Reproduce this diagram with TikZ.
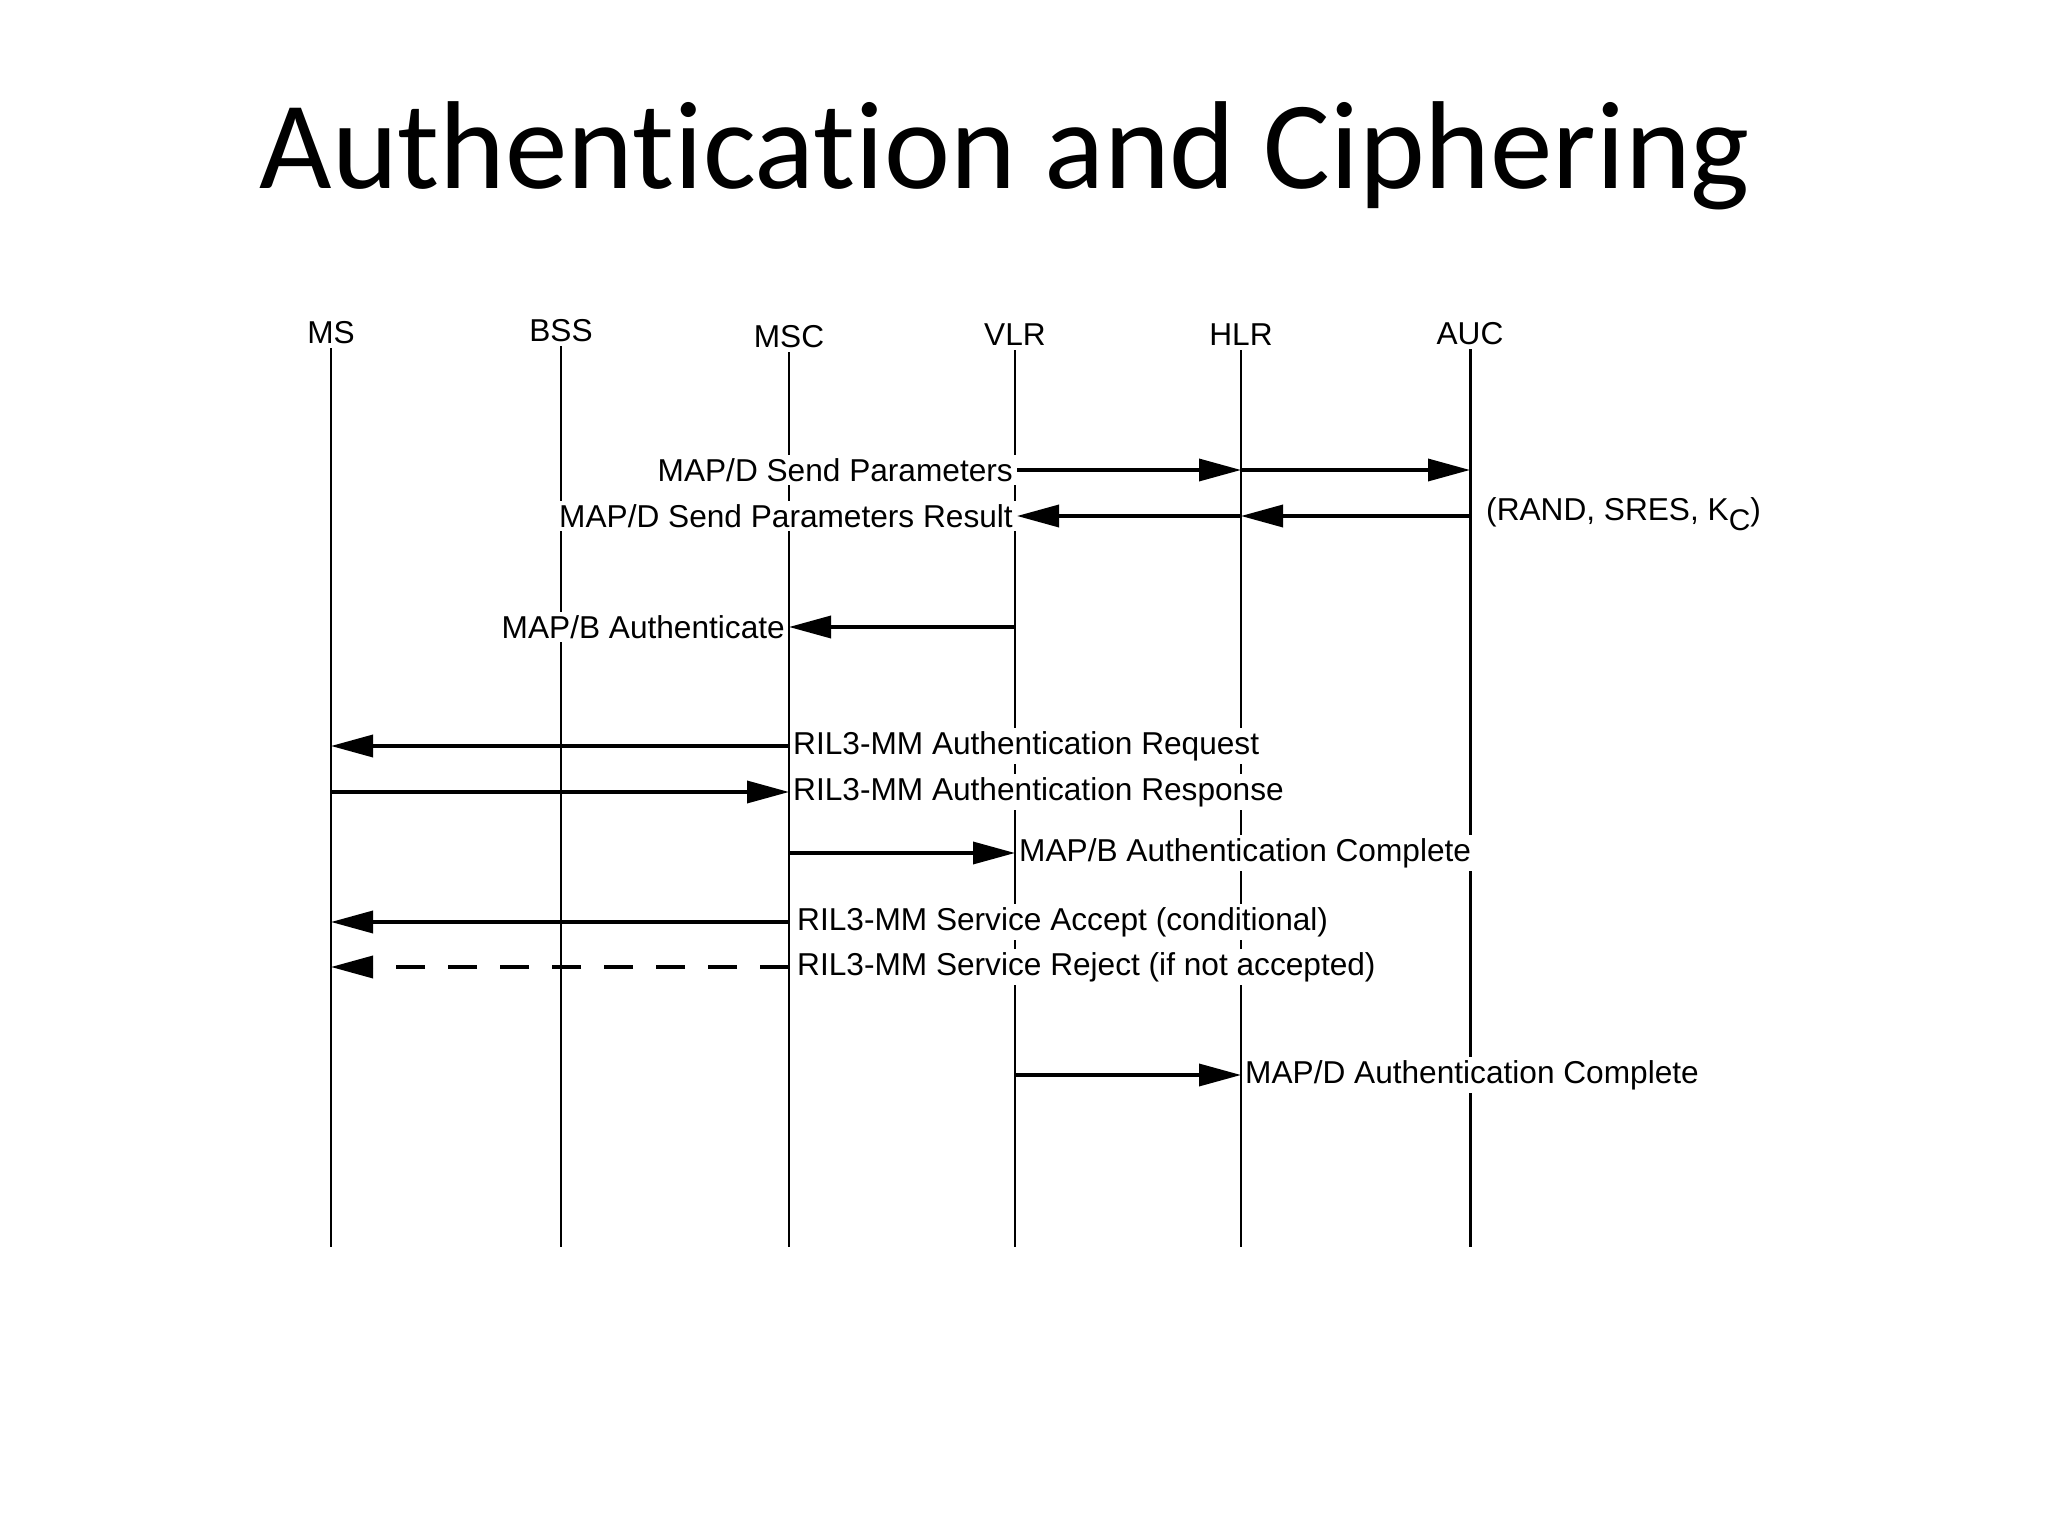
\documentclass[tikz,border=0pt]{standalone}
\usepackage{fontspec}
\setmainfont{Liberation Sans}
\newfontfamily\titlefont[Ligatures=NoCommon]{Carlito}
\usetikzlibrary{arrows.meta}

\begin{document}
\begin{tikzpicture}[
   every node/.style={font=\fontsize{9}{11}\selectfont},
   entity/.style={inner sep=1pt},
   life/.style={line width=0.85pt},
   msg/.style={line width=1pt,-{Triangle[length=0.42cm,width=0.22cm]}},
   lbl/.style={fill=white,inner sep=1pt}]
   \useasboundingbox (0,0) rectangle (20.48,-15.36);
   \node[font=\titlefont\fontsize{35.6}{42}\selectfont,anchor=base] (title) at (10.05,-1.89) {Authentication and Ciphering};
   % entities and lifelines
   \node[entity] (ms)  at (3.31,-3.33) {MS};
   \node[entity] (bss) at (5.61,-3.31) {BSS};
   \node[entity] (msc) at (7.89,-3.37) {MSC};
   \node[entity] (vlr) at (10.15,-3.35) {VLR};
   \node[entity] (hlr) at (12.41,-3.35) {HLR};
   \node[entity] (auc) at (14.70,-3.34) {AUC};
   \coordinate (lifeend) at (0,-12.47);
   \foreach \e in {ms,bss,msc,vlr,hlr,auc}
      \draw[life] (\e.south) -- (\e |- lifeend);
   % VLR - HLR - AUC
   \node[lbl,anchor=east] (sendpar) at (10.17,-4.70) {MAP/D Send Parameters};
   \draw[msg] (sendpar.east) -- (hlr |- sendpar.east);
   \draw[msg] (hlr |- sendpar.east) -- (auc |- sendpar.east);
   \node[lbl,anchor=east] (sendres) at (10.17,-5.16) {MAP/D Send Parameters Result};
   \draw[msg] (auc |- sendres.east) -- (hlr |- sendres.east);
   \draw[msg] (hlr |- sendres.east) -- (sendres.east);
   \node[lbl,anchor=west] (rand) at (14.82,-5.14) {(RAND, SRES, K\raisebox{-0.6ex}{\fontsize{8.5}{9}\selectfont C})};
   % VLR - MSC
   \node[lbl,anchor=east] (auth) at (7.89,-6.27) {MAP/B Authenticate};
   \draw[msg] (vlr |- auth.east) -- (auth.east);
   % MS - MSC
   \node[lbl,anchor=west] (authreq) at (7.89,-7.46) {RIL3-MM Authentication Request};
   \draw[msg] (authreq.west) -- (ms |- authreq.west);
   \node[lbl,anchor=west] (authrsp) at (7.89,-7.92) {RIL3-MM Authentication Response};
   \draw[msg] (ms |- authrsp.west) -- (authrsp.west);
   \node[lbl,anchor=west] (bcompl) at (10.15,-8.53) {MAP/B Authentication Complete};
   \draw[msg] (msc |- bcompl.west) -- (bcompl.west);
   \node[lbl,anchor=west] (accept) at (7.93,-9.22) {RIL3-MM Service Accept (conditional)};
   \draw[msg] (msc |- accept.west) -- (ms |- accept.west);
   \node[lbl,anchor=west] (reject) at (7.93,-9.67) {RIL3-MM Service Reject (if not accepted)};
   \draw[msg,dash pattern=on 0.29cm off 0.23cm] (msc |- reject.west) -- (ms |- reject.west);
   % VLR - HLR
   \node[lbl,anchor=west] (dcompl) at (12.41,-10.75) {MAP/D Authentication Complete};
   \draw[msg] (vlr |- dcompl.west) -- (dcompl.west);
\end{tikzpicture}
\end{document}
